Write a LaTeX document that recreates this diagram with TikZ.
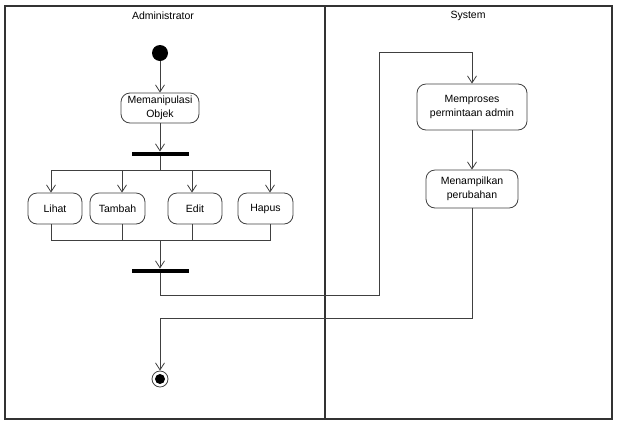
\documentclass[tikz,border=0pt]{standalone}
\usepackage{fontspec}
\setmainfont{Liberation Sans}
\usetikzlibrary{arrows.meta,calc}
\begin{document}
\begin{tikzpicture}[x=1pt,y=-1pt,
  line/.style={draw=black!75, line width=0.8pt},
  arr/.style={line, -{Straight Barb[length=7pt,width=9pt]}},
  act/.style={draw=black!75, line width=0.8pt, rounded corners=9pt, align=center, inner sep=0pt, font=\fontsize{10.5}{14}\selectfont},
  bar/.style={fill=black, inner sep=0pt, minimum width=57pt, minimum height=4.5pt},
  lane/.style={draw=black!80, line width=1.2pt},
  title/.style={font=\fontsize{10.5}{13}\selectfont}]
\useasboundingbox (0,0) rectangle (620,424);
\draw[lane] (5,6) rectangle (612,419);
\draw[lane] (325,6) -- (325,419);
\node[title] (ladm) at (163,16) {Administrator};
\node[title] (lsys) at (468,16) {System};
\node[circle, fill=black, minimum size=16pt, inner sep=0pt] (start) at (160,53) {};
\node[act, minimum width=78pt, minimum height=30pt] (manip) at (160,108) {Memanipulasi\\Objek};
\node[bar] (fork) at (160,154) {};
\node[act, minimum width=54pt, minimum height=31pt] (lihat) at (55,208.5) {Lihat};
\node[act, minimum width=55pt, minimum height=31pt] (tambah) at (117.5,208.5) {Tambah};
\node[act, minimum width=54pt, minimum height=31pt] (edit) at (195,208.5) {Edit};
\node[act, minimum width=55pt, minimum height=31pt] (hapus) at (265.5,208.5) {Hapus};
\node[bar] (join) at (160,271) {};
\node[act, minimum width=110pt, minimum height=46pt] (proses) at (472,107) {Memproses\\permintaan admin};
\node[act, minimum width=92pt, minimum height=38pt] (tampil) at (472,189) {Menampilkan\\perubahan};
\node[circle, draw=black!75, line width=0.8pt, minimum size=16pt, inner sep=0pt] (end) at (160,379) {};
\node[circle, fill=black, minimum size=10pt, inner sep=0pt] (endin) at (end) {};
\coordinate (fb) at (160,170);
\coordinate (b1) at (51,170);
\coordinate (b2) at (122,170);
\coordinate (b3) at (192,170);
\coordinate (b4) at (270,170);
\coordinate (jb) at (160,240);
\coordinate (c1) at (51,240);
\coordinate (c2) at (122,240);
\coordinate (c3) at (192,240);
\coordinate (c4) at (270,240);
\coordinate (t1) at (379,295);
\coordinate (t2) at (379,52);
\coordinate (t3) at (160,318);
\draw[arr] (start) -- (manip);
\draw[arr] (manip) -- (fork);
\draw[line] (fork) -- (fb);
\draw[line] (b1) -- (b4);
\draw[arr] (b1) -- (b1 |- lihat.north);
\draw[arr] (b2) -- (b2 |- tambah.north);
\draw[arr] (b3) -- (b3 |- edit.north);
\draw[arr] (b4) -- (b4 |- hapus.north);
\draw[line] (c1 |- lihat.south) -- (c1) -- (c4) -- (c4 |- hapus.south);
\draw[line] (c2 |- tambah.south) -- (c2);
\draw[line] (c3 |- edit.south) -- (c3);
\draw[arr] (jb) -- (join);
\draw[arr] (join) |- (t1) -- (t2) -| (proses.north);
\draw[arr] (proses) -- (tampil);
\draw[arr] (tampil) |- (t3) -- (end);
\end{tikzpicture}
\end{document}
